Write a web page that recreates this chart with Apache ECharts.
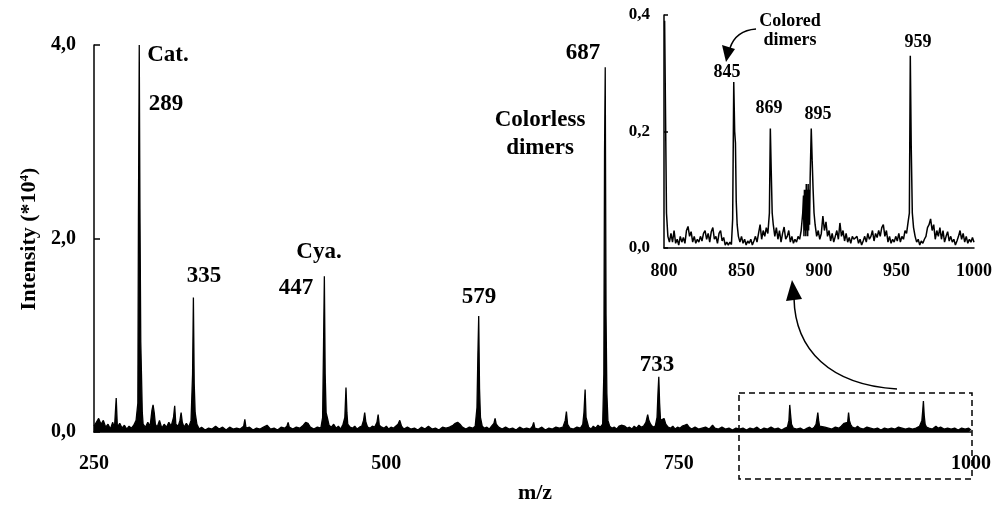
<!DOCTYPE html>
<html>
<head>
<meta charset="utf-8">
<script src="https://cdn.jsdelivr.net/npm/echarts@6.0.0/dist/echarts.min.js"></script>
<style>
  html, body { margin: 0; padding: 0; background: #fff; }
  #chart { width: 995px; height: 505px; }
</style>
</head>
<body>
<div id="chart"></div>
<script>
// full spectrum, m/z vs intensity (*10^4)
const mainSpectrum = [
  [250, 0.06], [252, 0.1], [254, 0.14], [256, 0.08], [258, 0.12], [260, 0.05], [262, 0.08], [264, 0.03],
  [266, 0.1], [267.5, 0.04], [269, 0.35], [270, 0.05], [272, 0.09], [274, 0.04], [276, 0.07], [278, 0.03],
  [280, 0.06], [282, 0.04], [284, 0.07], [286, 0.12], [287.5, 0.3], [288, 2.2], [288.7, 4.0], [289.3, 2.3],
  [290, 0.93], [290.6, 0.6], [291.3, 0.2], [292, 0.08], [294, 0.05], [296, 0.1], [298, 0.06], [299.5, 0.22],
  [300.5, 0.28], [301.5, 0.2], [302.5, 0.08], [304, 0.05], [306, 0.12], [308, 0.04], [310, 0.08], [312, 0.05],
  [314, 0.1], [316, 0.06], [318, 0.15], [319, 0.27], [320, 0.08], [322, 0.06], [323.5, 0.12], [324.5, 0.2],
  [325.5, 0.1], [327, 0.05], [329, 0.09], [331, 0.05], [333, 0.12], [334.3, 0.6], [335, 1.39], [335.7, 0.5],
  [336.5, 0.2], [338, 0.08], [340, 0.03], [342, 0.05], [345, 0.02], [348, 0.04], [351, 0.03], [354, 0.06],
  [357, 0.03], [360, 0.05], [363, 0.02], [366, 0.05], [369, 0.03], [372, 0.04], [375, 0.03], [378, 0.06],
  [379, 0.13], [380, 0.04], [383, 0.05], [386, 0.02], [389, 0.04], [392, 0.03], [395, 0.05], [398, 0.07],
  [401, 0.03], [404, 0.04], [407, 0.02], [410, 0.05], [413, 0.04], [415, 0.06], [416, 0.1], [417, 0.05],
  [420, 0.03], [423, 0.05], [426, 0.04], [429, 0.07], [431, 0.1], [433, 0.09], [435, 0.05], [438, 0.03],
  [441, 0.05], [444, 0.04], [445.5, 0.15], [446.3, 0.9], [447, 1.61], [447.7, 0.6], [448.5, 0.2], [449.5, 0.15],
  [451, 0.07], [453, 0.05], [455, 0.08], [457, 0.04], [459, 0.06], [461, 0.03], [463, 0.08], [464.5, 0.15],
  [465.5, 0.46], [466.3, 0.2], [467, 0.08], [469, 0.05], [471, 0.04], [473, 0.06], [475, 0.03], [477, 0.05],
  [479, 0.06], [480.5, 0.12], [481.5, 0.2], [482.5, 0.1], [484, 0.05], [486, 0.04], [488, 0.06], [490, 0.05],
  [492, 0.1], [493, 0.18], [494, 0.07], [496, 0.05], [498, 0.04], [500, 0.06], [502, 0.03], [504, 0.05],
  [506, 0.04], [508, 0.06], [510, 0.08], [511.5, 0.12], [513, 0.06], [515, 0.03], [518, 0.05], [521, 0.03],
  [524, 0.04], [527, 0.02], [530, 0.05], [533, 0.03], [536, 0.06], [539, 0.03], [542, 0.04], [545, 0.02],
  [548, 0.05], [551, 0.04], [554, 0.05], [557, 0.07], [559, 0.09], [561, 0.1], [563, 0.08], [565, 0.05],
  [568, 0.03], [571, 0.05], [574, 0.04], [576, 0.06], [577.5, 0.25], [578.3, 0.8], [579, 1.2], [579.7, 0.45],
  [580.5, 0.15], [582, 0.06], [584, 0.04], [586, 0.05], [588, 0.03], [590, 0.06], [592, 0.09], [593, 0.14],
  [594, 0.08], [596, 0.05], [599, 0.03], [602, 0.05], [605, 0.03], [608, 0.04], [611, 0.02], [614, 0.05],
  [617, 0.03], [620, 0.04], [623, 0.03], [625, 0.06], [626, 0.1], [627, 0.04], [630, 0.03], [633, 0.05],
  [636, 0.02], [639, 0.04], [642, 0.03], [645, 0.05], [648, 0.04], [651, 0.05], [653, 0.12], [654, 0.21],
  [655, 0.08], [657, 0.04], [660, 0.03], [663, 0.05], [666, 0.04], [668, 0.08], [669, 0.2], [670, 0.44],
  [670.8, 0.15], [671.5, 0.12], [673, 0.05], [675, 0.03], [677, 0.06], [679, 0.04], [681, 0.07], [683, 0.05],
  [685, 0.08], [686, 0.6], [686.6, 2.9], [687.2, 3.77], [687.9, 1.2], [688.6, 0.4], [689.5, 0.12], [691, 0.06],
  [693, 0.04], [695, 0.05], [697, 0.03], [699, 0.06], [701, 0.07], [702.5, 0.09], [704, 0.06], [706, 0.04],
  [708, 0.05], [710, 0.03], [712, 0.06], [714, 0.04], [716, 0.07], [718, 0.05], [720, 0.06], [722, 0.1],
  [723.5, 0.18], [724.5, 0.12], [726, 0.08], [728, 0.05], [730, 0.06], [731.5, 0.15], [732.3, 0.4], [733, 0.57],
  [733.7, 0.3], [734.5, 0.12], [736, 0.1], [737.5, 0.14], [739, 0.08], [741, 0.05], [743, 0.04], [745, 0.06],
  [747, 0.03], [749, 0.05], [751, 0.04], [753, 0.06], [755, 0.07], [757, 0.08], [759, 0.05], [761, 0.03],
  [764, 0.05], [767, 0.03], [770, 0.04], [773, 0.05], [776, 0.03], [779, 0.07], [781, 0.04], [784, 0.03],
  [787, 0.05], [790, 0.03], [793, 0.04], [796, 0.02], [799, 0.04], [802, 0.03], [805, 0.04], [808, 0.02],
  [811, 0.04], [814, 0.03], [817, 0.05], [820, 0.02], [823, 0.04], [826, 0.03], [829, 0.05], [832, 0.03],
  [835, 0.04], [838, 0.02], [841, 0.04], [843, 0.05], [844.3, 0.12], [845, 0.28], [845.7, 0.18], [846.5, 0.08],
  [848, 0.04], [851, 0.03], [854, 0.04], [857, 0.02], [860, 0.04], [862, 0.05], [864, 0.03], [866, 0.05],
  [867.5, 0.08], [868.4, 0.15], [869, 0.2], [869.7, 0.12], [870.5, 0.06], [872, 0.04], [875, 0.05], [878, 0.04],
  [881, 0.03], [884, 0.05], [887, 0.04], [889, 0.06], [890, 0.08], [891.5, 0.09], [893, 0.08], [894.5, 0.1],
  [895.3, 0.2], [896, 0.12], [897, 0.08], [898.5, 0.05], [901, 0.04], [903, 0.06], [905, 0.04], [908, 0.03],
  [911, 0.05], [914, 0.04], [917, 0.03], [920, 0.04], [923, 0.02], [926, 0.04], [929, 0.03], [932, 0.04],
  [935, 0.03], [938, 0.05], [941, 0.04], [944, 0.03], [947, 0.04], [950, 0.03], [953, 0.04], [956, 0.06],
  [958, 0.12], [958.7, 0.22], [959.3, 0.32], [960, 0.17], [960.8, 0.08], [962, 0.05], [964, 0.04], [967, 0.03],
  [970, 0.06], [972, 0.04], [974, 0.05], [977, 0.03], [980, 0.04], [983, 0.03], [986, 0.04], [989, 0.02],
  [992, 0.04], [995, 0.03], [998, 0.04], [1000, 0.02]
];

// zoomed 800-1000 region (inset)
const insetSpectrum = [
  [800.4, 0.39], [801, 0.39], [801.6, 0.06], [802.5, 0.02], [803.5, 0.01], [804.5, 0.025], [805.5, 0.01], [806.5, 0.03],
  [807.5, 0.008], [808.5, 0.015], [809.5, 0.005], [810.5, 0.02], [811.5, 0.01], [812.5, 0.018], [813.5, 0.008], [814.5, 0.03],
  [815.5, 0.037], [816.5, 0.02], [817.5, 0.028], [818.5, 0.01], [819.5, 0.02], [820.5, 0.008], [821.5, 0.015], [822.5, 0.01],
  [823.5, 0.02], [824.5, 0.012], [825.5, 0.025], [826.5, 0.03], [827.5, 0.015], [828.5, 0.025], [829.5, 0.01], [830.5, 0.028],
  [831.5, 0.035], [832.5, 0.015], [833.5, 0.02], [834.5, 0.008], [835.5, 0.025], [836.5, 0.03], [837.5, 0.012], [838.5, 0.018],
  [839.5, 0.005], [840.5, 0.01], [841.5, 0.005], [842.5, 0.01], [843.5, 0.006], [844.3, 0.05], [845, 0.285], [845.6, 0.2],
  [846.1, 0.18], [846.6, 0.08], [847.2, 0.04], [848, 0.02], [849, 0.01], [850, 0.02], [851, 0.008], [852, 0.015],
  [853, 0.005], [854, 0.012], [855, 0.008], [856, 0.015], [857, 0.005], [858, 0.012], [859, 0.02], [860, 0.01],
  [861, 0.025], [862, 0.04], [863, 0.015], [864, 0.03], [865, 0.02], [866, 0.035], [867, 0.025], [868, 0.06],
  [868.6, 0.205], [869.2, 0.13], [869.8, 0.06], [870.5, 0.04], [871.5, 0.02], [872.5, 0.035], [873.5, 0.015], [874.5, 0.03],
  [875.5, 0.01], [876.5, 0.025], [877.5, 0.036], [878.5, 0.015], [879.5, 0.02], [880.5, 0.03], [881.5, 0.01], [882.5, 0.02],
  [883.5, 0.008], [884.5, 0.015], [885.5, 0.01], [886.5, 0.02], [887.5, 0.015], [888.5, 0.03], [889.5, 0.06], [890, 0.09],
  [890.3, 0.02], [890.6, 0.1], [890.9, 0.03], [891.2, 0.1], [891.5, 0.02], [891.8, 0.11], [892.1, 0.03], [892.4, 0.1],
  [892.7, 0.02], [893, 0.11], [893.3, 0.03], [893.6, 0.1], [893.9, 0.04], [894.3, 0.12], [895, 0.205],
  [895.6, 0.15], [896.2, 0.1], [896.8, 0.06], [897.5, 0.04], [898.5, 0.02], [899.5, 0.03], [900.5, 0.015], [901.5, 0.025],
  [902.5, 0.055], [903.5, 0.03], [904.5, 0.045], [905.5, 0.02], [906.5, 0.03], [907.5, 0.012], [908.5, 0.025], [909.5, 0.01],
  [910.5, 0.02], [911.5, 0.03], [912.5, 0.015], [913.5, 0.043], [914.5, 0.02], [915.5, 0.03], [916.5, 0.012], [917.5, 0.025],
  [918.5, 0.01], [919.5, 0.018], [920.5, 0.008], [921.5, 0.02], [922.5, 0.015], [923.5, 0.012], [924.5, 0.02], [925.5, 0.008],
  [926.5, 0.015], [927.5, 0.005], [928.5, 0.012], [929.5, 0.02], [930.5, 0.01], [931.5, 0.025], [932.5, 0.015], [933.5, 0.02],
  [934.5, 0.03], [935.5, 0.012], [936.5, 0.025], [937.5, 0.018], [938.5, 0.03], [939.5, 0.02], [940.5, 0.035], [941.5, 0.04],
  [942.5, 0.02], [943.5, 0.03], [944.5, 0.01], [945.5, 0.02], [946.5, 0.008], [947.5, 0.015], [948.5, 0.01], [949.5, 0.02],
  [950.5, 0.012], [951.5, 0.025], [952.5, 0.01], [953.5, 0.02], [954.5, 0.015], [955.5, 0.03], [956.5, 0.025], [957.5, 0.045],
  [958.3, 0.06], [958.9, 0.33], [959.5, 0.175], [960.2, 0.06], [961, 0.035], [962, 0.02], [963, 0.01], [964, 0.015],
  [965, 0.005], [966, 0.012], [967, 0.008], [968, 0.015], [969, 0.02], [970, 0.035], [971, 0.04], [972, 0.05],
  [973, 0.03], [974, 0.04], [975, 0.015], [976, 0.03], [977, 0.02], [978, 0.035], [979, 0.015], [980, 0.03],
  [981, 0.01], [982, 0.02], [983, 0.028], [984, 0.012], [985, 0.02], [986, 0.01], [987, 0.015], [988, 0.005],
  [989, 0.012], [990, 0.02], [991, 0.03], [992, 0.015], [993, 0.025], [994, 0.01], [995, 0.02], [996, 0.008],
  [997, 0.015], [998, 0.01], [999, 0.018], [1000, 0.01]
];

// axis ranges / ticks
const mainMzTicks = [250, 1000, 250];
const mainIntTicks = [0, 4, 2];
const insetMzTicks = [800, 1000, 50];
const insetIntTicks = [0, 0.4, 0.2];

// peak annotations: [text, x, y]
const mainLabels = [
  ['Cat.', 168, 55], ['289', 166, 104], ['335', 204, 276], ['Cya.', 319, 252], ['447', 296, 288],
  ['579', 479, 297], ['Colorless', 540, 120], ['dimers', 540, 148], ['687', 583, 53], ['733', 657, 365]
];
const insetLabels = [
  ['Colored', 790, 21], ['dimers', 790, 40], ['845', 727, 72], ['869', 769, 108], ['895', 818, 114], ['959', 918, 42]
];

const FONT = '"Liberation Serif", "Times New Roman", serif';

function commaFmt(digits) {
  return function (v) {
    return v.toFixed(digits).replace('.', ',');
  };
}

function plainFmt(v) {
  return String(v);
}

function textEl(t, x, y, size) {
  return {
    type: 'text', x: x, y: y, silent: true,
    style: {
      text: t, fill: '#000', font: 'bold ' + size + 'px ' + FONT,
      textAlign: 'center', textVerticalAlign: 'middle'
    }
  };
}

let chart = echarts.init(document.getElementById('chart'), null, {renderer: 'canvas'});

let axisText = function (size) {
  return {color: '#000', fontFamily: FONT, fontWeight: 'bold', fontSize: size};
};

let graphics = [];
mainLabels.forEach(function (l) { graphics.push(textEl(l[0], l[1], l[2], 23)); });
insetLabels.forEach(function (l) { graphics.push(textEl(l[0], l[1], l[2], 18)); });
graphics.push(textEl('m/z', 535, 493, 22));
graphics.push({
  type: 'text', x: 29, y: 239, rotation: Math.PI / 2, silent: true,
  style: {
    text: '{a|Intensity (*10}{s|4}{a|)}', fill: '#000',
    textAlign: 'center', textVerticalAlign: 'middle',
    rich: {
      a: {fontFamily: FONT, fontWeight: 'bold', fontSize: 22, color: '#000'},
      s: {fontFamily: FONT, fontWeight: 'bold', fontSize: 13, color: '#000', verticalAlign: 'top', padding: [0, 0, 8, 0]}
    }
  }
});
// dashed zoom box and arrows
graphics.push({
  type: 'rect', silent: true,
  shape: {x: 739, y: 393, width: 233, height: 86},
  style: {fill: 'none', stroke: '#000', lineWidth: 1.5, lineDash: [6, 4]}
});
graphics.push({
  type: 'bezierCurve', silent: true,
  shape: {x1: 897, y1: 389, cpx1: 830, cpy1: 385, cpx2: 795, cpy2: 350, x2: 794, y2: 298},
  style: {fill: 'none', stroke: '#000', lineWidth: 1.5}
});
graphics.push({
  type: 'polygon', silent: true,
  shape: {points: [[792, 280], [786, 301], [802, 299]]},
  style: {fill: '#000'}
});
graphics.push({
  type: 'bezierCurve', silent: true,
  shape: {x1: 756, y1: 29, cpx1: 743, cpy1: 30, cpx2: 734, cpy2: 36, x2: 730, y2: 48},
  style: {fill: 'none', stroke: '#000', lineWidth: 1.5}
});
graphics.push({
  type: 'polygon', silent: true,
  shape: {points: [[726, 62], [722, 45], [735, 49]]},
  style: {fill: '#000'}
});

let options = {
  animation: false,
  backgroundColor: '#fff',
  grid: [
    {left: 94, top: 45, width: 877, height: 387},
    {left: 664, top: 15, width: 312, height: 233}
  ],
  xAxis: [
    {
      type: 'value', gridIndex: 0, min: mainMzTicks[0], max: mainMzTicks[1], interval: mainMzTicks[2],
      axisLine: {lineStyle: {color: '#000', width: 1.5}},
      axisTick: {show: false}, splitLine: {show: false},
      axisLabel: Object.assign({margin: 22, formatter: plainFmt}, axisText(20))
    },
    {
      type: 'value', gridIndex: 1, min: insetMzTicks[0], max: insetMzTicks[1], interval: insetMzTicks[2],
      axisLine: {lineStyle: {color: '#000', width: 1.5}},
      axisTick: {show: false}, splitLine: {show: false},
      axisLabel: Object.assign({margin: 14, formatter: plainFmt}, axisText(18))
    }
  ],
  yAxis: [
    {
      type: 'value', gridIndex: 0, min: mainIntTicks[0], max: mainIntTicks[1], interval: mainIntTicks[2],
      axisLine: {show: true, lineStyle: {color: '#000', width: 1.5}},
      axisTick: {show: true, inside: true, length: 6, lineStyle: {color: '#000', width: 1.5}},
      splitLine: {show: false},
      axisLabel: Object.assign({margin: 18, formatter: commaFmt(1)}, axisText(20))
    },
    {
      type: 'value', gridIndex: 1, min: insetIntTicks[0], max: insetIntTicks[1], interval: insetIntTicks[2],
      axisLine: {show: true, lineStyle: {color: '#000', width: 1.5}},
      axisTick: {show: true, inside: true, length: 4, lineStyle: {color: '#000', width: 1.5}},
      splitLine: {show: false},
      axisLabel: Object.assign({margin: 14, formatter: commaFmt(1)}, axisText(17))
    }
  ],
  series: [
    {
      type: 'line', xAxisIndex: 0, yAxisIndex: 0, data: mainSpectrum,
      showSymbol: false, silent: true, sampling: null,
      lineStyle: {color: '#000', width: 1.3},
      areaStyle: {color: '#000', opacity: 1}
    },
    {
      type: 'line', xAxisIndex: 1, yAxisIndex: 1, data: insetSpectrum,
      showSymbol: false, silent: true,
      lineStyle: {color: '#000', width: 1.5}
    }
  ],
  graphic: graphics
};

chart.setOption(options);
</script>
</body>
</html>
